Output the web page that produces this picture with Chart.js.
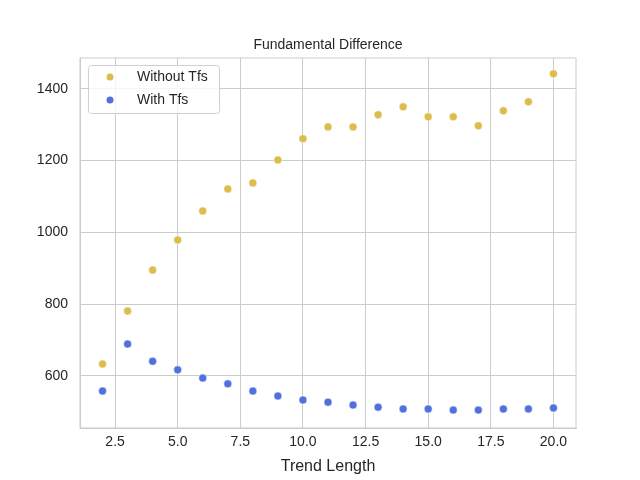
<!DOCTYPE html>
<html><head><meta charset="utf-8">
<script src="https://cdn.jsdelivr.net/npm/chart.js@4/dist/chart.umd.min.js"></script>
<style>html,body{margin:0;background:#fff}#wrap{width:640px;height:480px}</style>
</head><body><div id="wrap"><canvas id="c" width="640" height="480"></canvas></div>
<script>
'use strict';

/* ---- Data ---- */
const trendLengths = [2,3,4,5,6,7,8,9,10,11,12,13,14,15,16,17,18,19,20];
const withoutTfs = [633,781,895,979,1060,1121,1138,1202,1261,1294,1294,1328,1350,1322,1322,1297,1339,1364,1442];
const withTfs = [558,689,641,617,594,578,558,544,533,527,519,513,508,508,505,505,508,508,511];
const xTicks = [2.5,5,7.5,10,12.5,15,17.5,20];
const yTicks = [600,800,1000,1200,1400];

const YELLOW = '#dcbc4a';
const BLUE = '#5170dc';
const FONT = 'Liberation Sans';

const toPts = ys => trendLengths.map((x, i) => ({ x, y: ys[i] }));

/* ---- Title + legend overlay ---- */
const overlay = {
  id: 'overlay',
  afterDraw(chart) {
    const ctx = chart.ctx;
    ctx.save();
    ctx.fillStyle = '#262626';
    ctx.font = '14px ' + FONT;
    ctx.textAlign = 'center';
    ctx.textBaseline = 'alphabetic';
    ctx.fillText('Fundamental Difference', 328, 49);
    // legend box
    ctx.fillStyle = 'rgba(255,255,255,0.8)';
    ctx.strokeStyle = '#d0d0d0';
    ctx.lineWidth = 1;
    ctx.beginPath();
    ctx.roundRect(88.5, 65.5, 131, 48, 3);
    ctx.fill(); ctx.stroke();
    const items = [['Without Tfs', YELLOW, 77], ['With Tfs', BLUE, 100]];
    ctx.font = '14px ' + FONT;
    ctx.textAlign = 'left';
    ctx.textBaseline = 'middle';
    items.forEach(([t, col, y]) => {
      ctx.fillStyle = col;
      ctx.beginPath(); ctx.arc(110, y, 3.5, 0, Math.PI * 2); ctx.fill();
      ctx.fillStyle = '#262626';
      ctx.fillText(t, 137, y);
    });
    ctx.restore();
  }
};

new Chart(document.getElementById('c'), {
  type: 'scatter',
  data: {
    datasets: [
      { label: 'Without Tfs', data: toPts(withoutTfs), backgroundColor: YELLOW, borderColor: '#fff', borderWidth: 0.5, pointRadius: 4 },
      { label: 'With Tfs', data: toPts(withTfs), backgroundColor: BLUE, borderColor: '#fff', borderWidth: 0.5, pointRadius: 4 }
    ]
  },
  options: {
    responsive: false,
    animation: false,
    layout: { padding: { top: 58, right: 64, left: 0, bottom: 0 } },
    plugins: { legend: { display: false }, tooltip: { enabled: false }, title: { display: false } },
    scales: {
      x: {
        type: 'linear', min: 1.1, max: 20.9,
        afterBuildTicks: a => { a.ticks = xTicks.map(v => ({ value: v })); },
        afterFit: a => { a.height = 52; },
        grid: { color: '#cccccc', drawTicks: false },
        border: { color: '#cccccc' },
        ticks: { color: '#262626', font: { family: FONT, size: 14 }, padding: 6, maxRotation: 0, callback: v => v.toFixed(1) },
        title: { display: true, text: 'Trend Length', color: '#262626', font: { family: FONT, size: 16 }, padding: { top: 0 } }
      },
      y: {
        min: 455, max: 1486,
        afterBuildTicks: a => { a.ticks = yTicks.map(v => ({ value: v })); },
        afterFit: a => { a.width = 80; },
        grid: { color: '#cccccc', drawTicks: false },
        border: { color: '#cccccc' },
        ticks: { color: '#262626', font: { family: FONT, size: 14 }, padding: 12, callback: v => String(v) }
      }
    }
  },
  plugins: [overlay, {
    id: 'frame',
    afterDatasetsDraw(chart) {
      const { ctx, chartArea: a } = chart;
      ctx.save(); ctx.strokeStyle = '#cccccc'; ctx.lineWidth = 1;
      ctx.strokeRect(a.left, a.top, a.right - a.left, a.bottom - a.top);
      ctx.restore();
    }
  }]
});
</script></body></html>
